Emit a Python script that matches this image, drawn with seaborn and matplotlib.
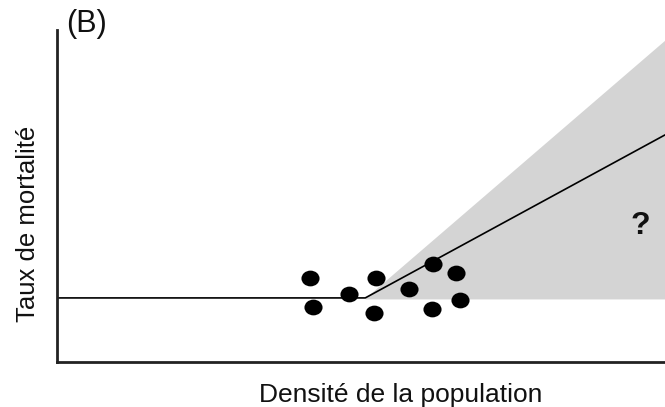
import matplotlib
matplotlib.use("Agg")
import matplotlib.pyplot as plt
import seaborn as sns
import numpy as np
import pandas as pd
from matplotlib.path import Path
from matplotlib.transforms import Affine2D

sns.set_theme(style="white")
plt.rcParams['font.family'] = ['Liberation Sans', 'DejaVu Sans']

# Observed points (density, mortality)
pts_x = [4.16, 4.21, 4.80, 5.25, 5.21, 5.79, 6.18, 6.56, 6.17, 6.63]
pts_y = [2.53, 1.66, 2.05, 2.53, 1.48, 2.20, 2.95, 2.68, 1.60, 1.87]

# Model line: flat then rising
line_x = [0.0, 5.07, 10.0]
line_y = [1.93, 1.93, 6.84]

# Uncertainty wedge
shade_x = [5.07, 10.0]
shade_lo = [1.90, 1.90]
shade_hi = [1.93, 9.7]

fig = plt.figure(figsize=(6.65, 4.07), dpi=100)
ax = fig.add_axes([57/665, (407-362)/407, 1 - 57/665, 332/407])

ax.fill_between(shade_x, shade_lo, shade_hi, color='#d4d4d4', linewidth=0, zorder=1)
sns.lineplot(x=line_x, y=line_y, ax=ax, color='black', linewidth=1.2, zorder=2, sort=False)

ell = Path.unit_circle().transformed(Affine2D().scale(1.15, 1.0))
df = pd.DataFrame({'x': pts_x, 'y': pts_y})
sns.scatterplot(data=df, x='x', y='y', ax=ax, marker=ell, s=170, color='black',
                edgecolor='black', linewidth=0, zorder=3)

ax.set_xlim(0, 10)
ax.set_ylim(0, 10)
ax.set_xticks([])
ax.set_yticks([])
for s in ['top', 'right']:
    ax.spines[s].set_visible(False)
for s in ['left', 'bottom']:
    ax.spines[s].set_color('#222222')
    ax.spines[s].set_linewidth(2)

ax.set_xlabel('Densité de la population', fontsize=19, labelpad=15, color='#111111')
ax.xaxis.label.set_x(0.566)
ax.set_ylabel('Taux de mortalité', fontsize=18.5, labelpad=12, color='#111111')
ax.yaxis.label.set_y(0.417)
ax.text(9.6, 4.1, '?', fontsize=23, fontweight='bold', ha='center', va='center', color='#111111')
fig.text(66/665, 1 - 24/407, '(B)', fontsize=22, ha='left', va='center', color='#111111')

fig.savefig('out.png', dpi=100)
